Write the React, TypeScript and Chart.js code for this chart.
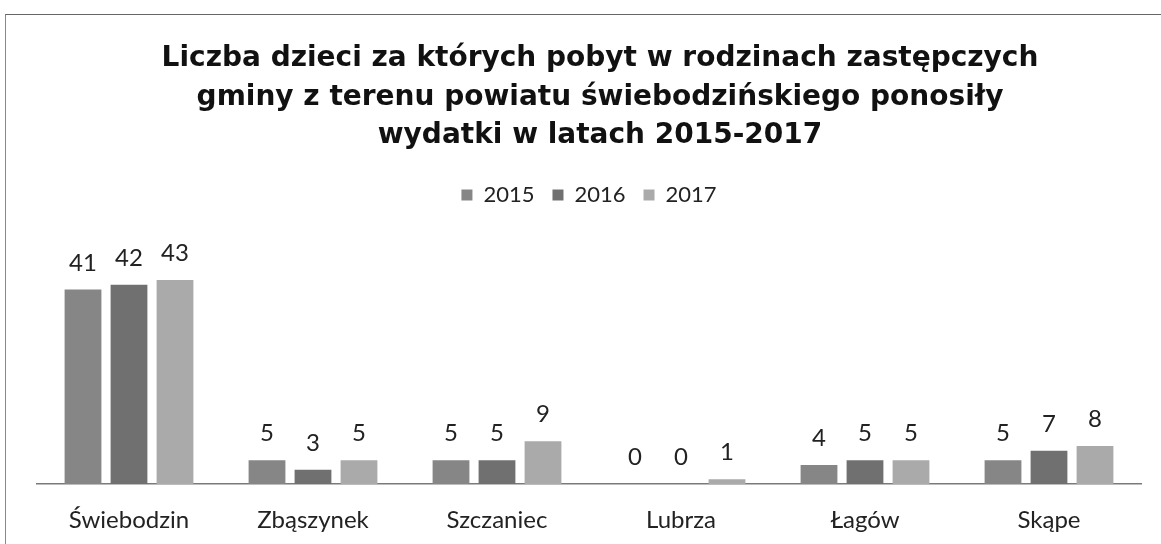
import React, { useEffect, useRef } from "react";
import { Chart, registerables } from "chart.js";

Chart.register(...registerables);

const categories = ["Świebodzin", "Zbąszynek", "Szczaniec", "Lubrza", "Łagów", "Skąpe"];
const values2015 = [41, 5, 5, 0, 4, 5];
const values2016 = [42, 3, 5, 0, 5, 7];
const values2017 = [43, 5, 9, 1, 5, 8];
const seriesLabels = ["2015", "2016", "2017"];
const titleLines = [
  "Liczba dzieci za których pobyt w rodzinach zastępczych",
  "gminy z terenu powiatu świebodzińskiego ponosiły",
  "wydatki w latach 2015-2017",
];

const colors = ["#868686", "#707070", "#aaaaaa"];
const labelFont = "Lato";

const titlePlugin = {
  id: "customTitle",
  afterDraw(chart: any) {
    const ctx = chart.ctx;
    ctx.save();
    ctx.font = 'bold 28px "DejaVu Sans"';
    ctx.fillStyle = "#111";
    ctx.textAlign = "center";
    ctx.textBaseline = "alphabetic";
    const baselines = [66, 105, 143];
    titleLines.forEach((line, i) => ctx.fillText(line, 600, baselines[i]));
    ctx.restore();
  },
};

const valueLabelPlugin = {
  id: "valueLabels",
  afterDatasetsDraw(chart: any) {
    const ctx = chart.ctx;
    ctx.save();
    ctx.font = `24px "${labelFont}"`;
    ctx.fillStyle = "#222";
    ctx.textAlign = "center";
    ctx.textBaseline = "alphabetic";
    chart.data.datasets.forEach((ds: any, di: number) => {
      const meta = chart.getDatasetMeta(di);
      meta.data.forEach((el: any, i: number) => {
        ctx.fillText(String(ds.data[i]), el.x, el.y - 19);
      });
    });
    ctx.restore();
  },
};

export default function App() {
  const canvasRef = useRef<HTMLCanvasElement | null>(null);

  useEffect(() => {
    if (!canvasRef.current) return;
    const chart = new Chart(canvasRef.current, {
      type: "bar",
      data: {
        labels: categories,
        datasets: [values2015, values2016, values2017].map((d, i) => ({
          label: seriesLabels[i],
          data: d,
          backgroundColor: colors[i],
          borderWidth: 0,
          categoryPercentage: 0.75,
          barPercentage: 0.8,
        })),
      },
      options: {
        animation: false,
        responsive: false,
        maintainAspectRatio: false,
        layout: { padding: { top: 166, left: 37, right: 20, bottom: 0 } },
        plugins: {
          title: { display: false },
          tooltip: { enabled: false },
          legend: {
            display: true,
            position: "top",
            labels: {
              boxWidth: 11,
              boxHeight: 11,
              padding: 18,
              color: "#222",
              font: { family: labelFont, size: 22 },
            },
          },
        },
        scales: {
          x: {
            grid: { display: false, drawTicks: false },
            border: { display: true, color: "#7a7a7a", width: 1.5 },
            ticks: {
              color: "#222",
              padding: 22,
              font: { family: labelFont, size: 24 },
            },
            afterFit: (scale: any) => {
              scale.height = 60;
            },
          },
          y: {
            display: false,
            min: 0,
            max: 56.5,
          },
        },
      },
      plugins: [titlePlugin, valueLabelPlugin],
    });
    return () => chart.destroy();
  }, []);

  return (
    <div style={{ position: "absolute", left: 0, top: 0, width: 1161, height: 544, background: "#fff" }}>
      <div
        style={{
          position: "absolute",
          left: 5,
          top: 14,
          width: 1156,
          height: 530,
          borderTop: "1px solid #666",
          borderLeft: "1px solid #888",
          boxSizing: "border-box",
        }}
      />
      <canvas ref={canvasRef} width={1161} height={544} style={{ position: "absolute", left: 0, top: 0 }} />
    </div>
  );
}
